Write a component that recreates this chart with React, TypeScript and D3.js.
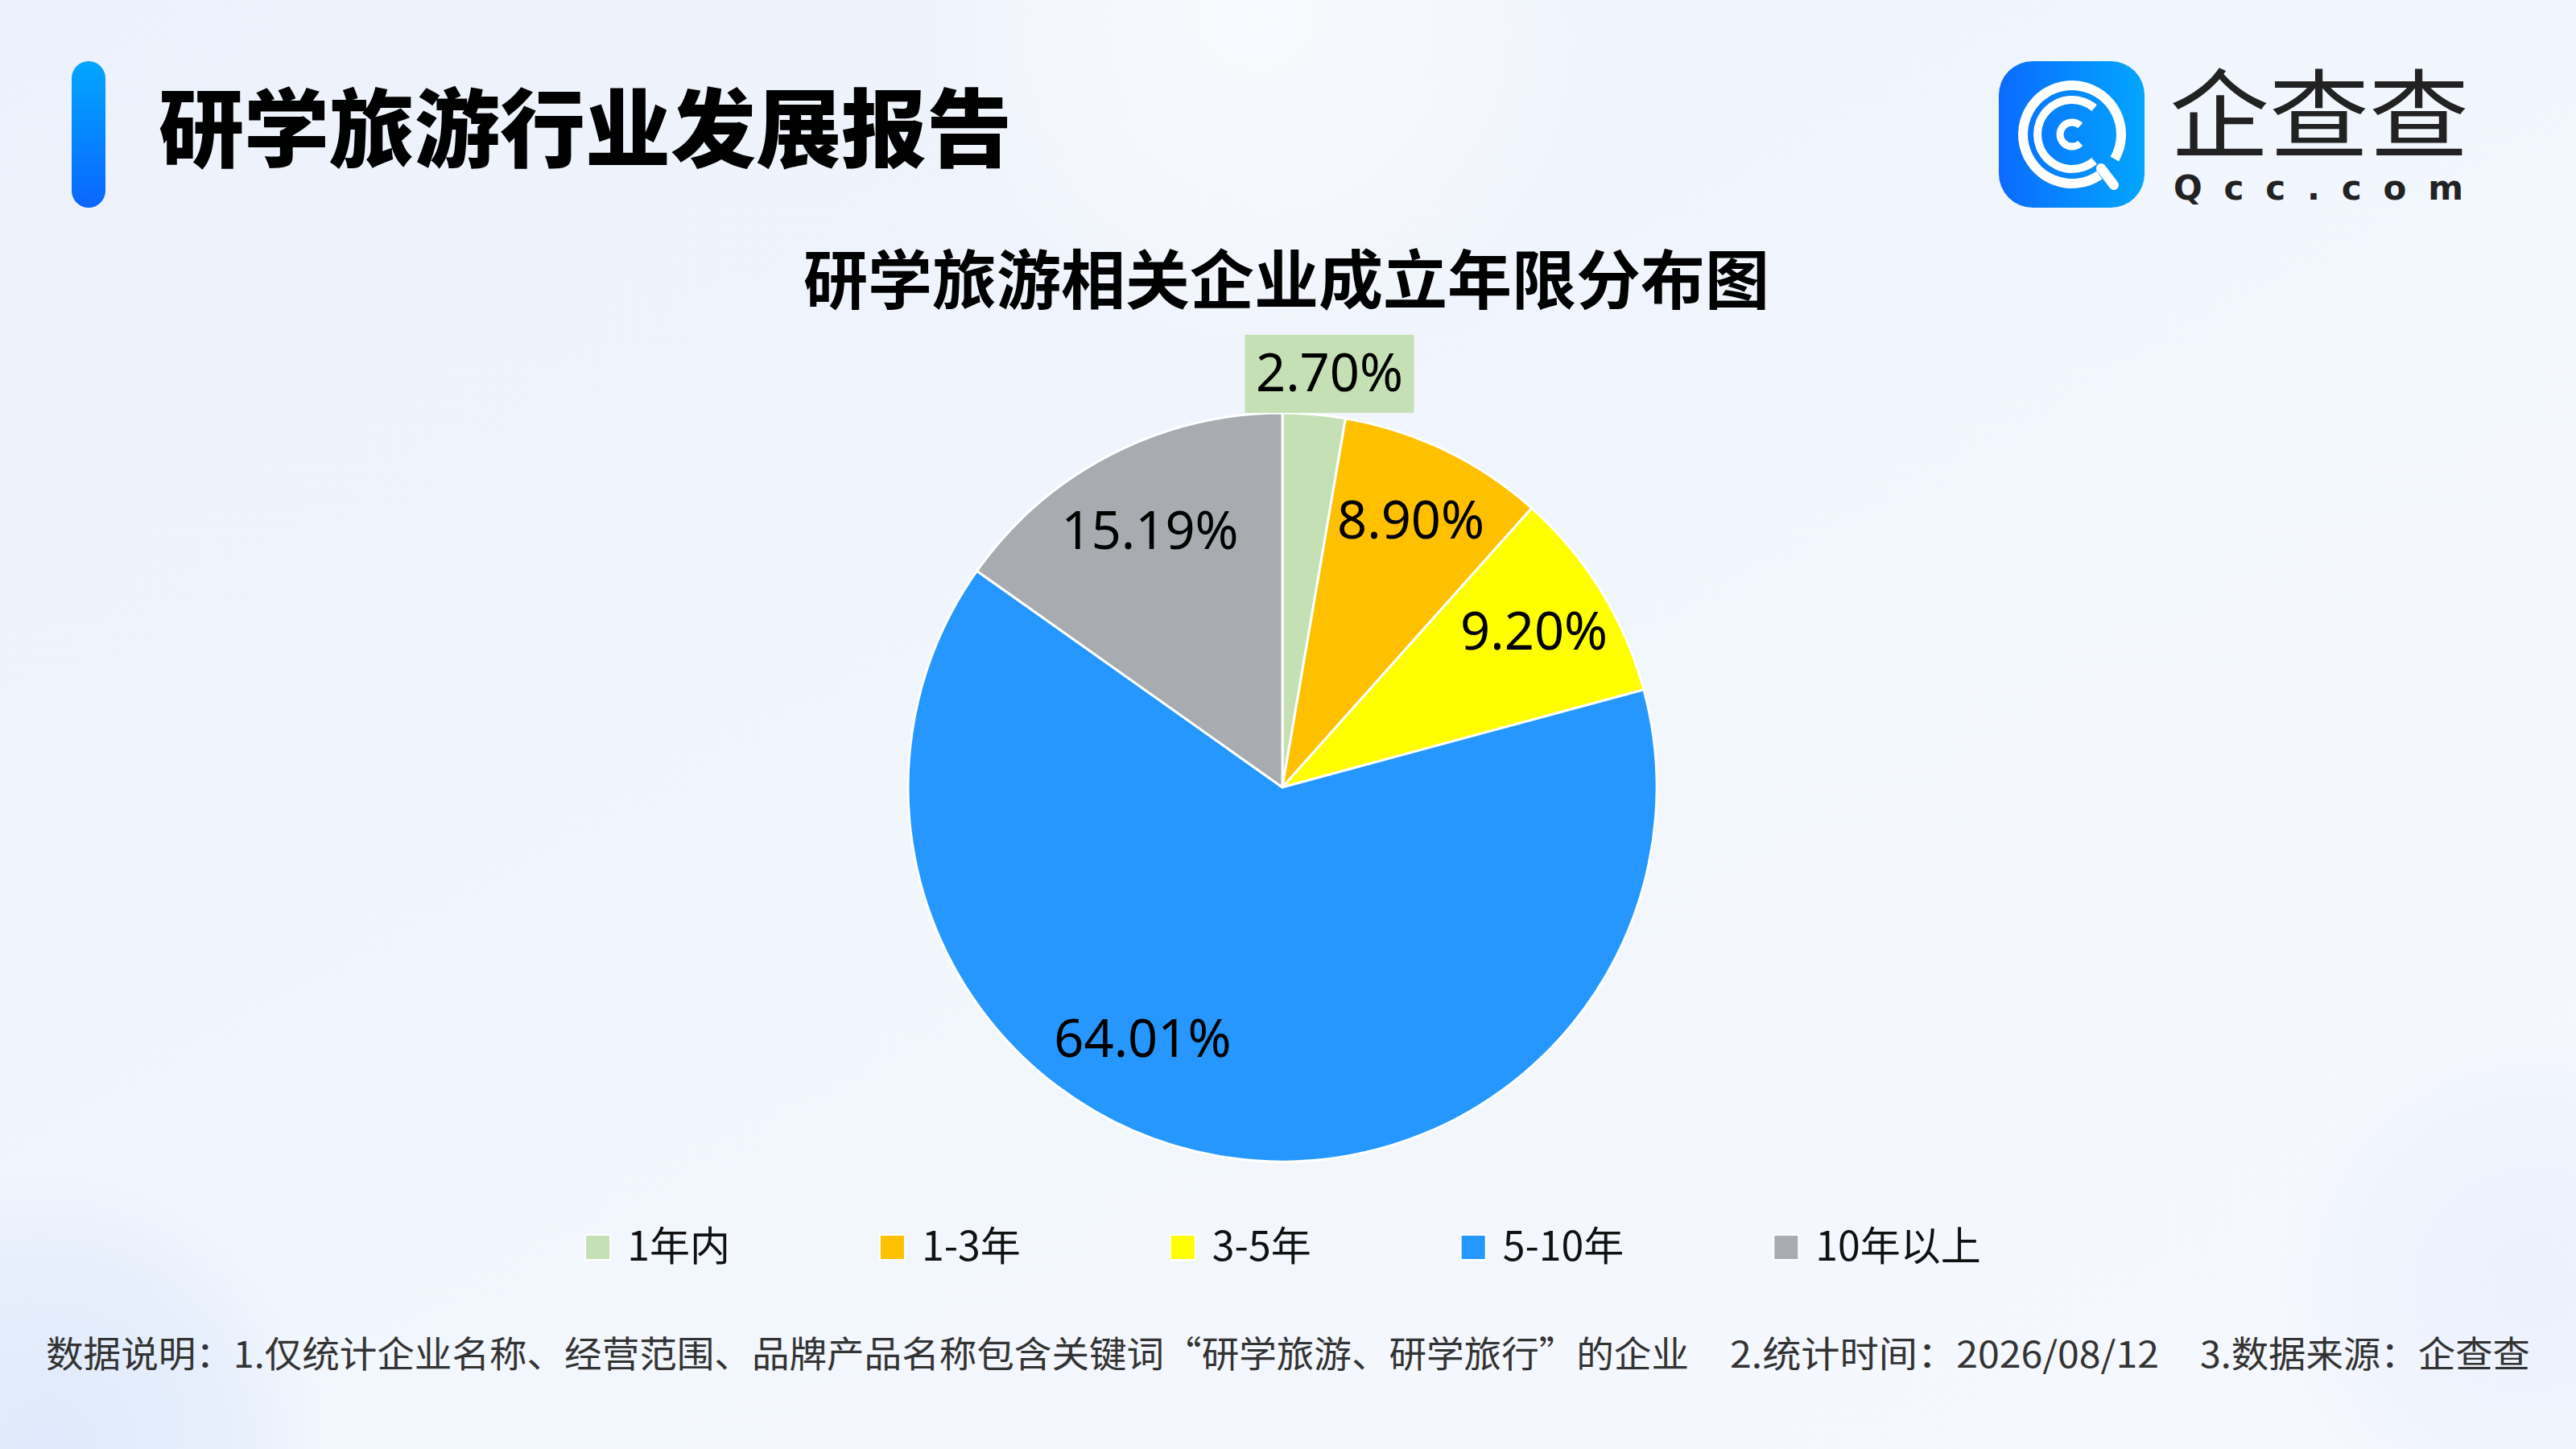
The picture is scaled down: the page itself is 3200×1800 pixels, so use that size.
import { useEffect, useRef } from "react";
import * as d3 from "d3";

// chart data
const CATEGORIES = ["1年内", "1-3年", "3-5年", "5-10年", "10年以上"];
const SHARES = [2.7, 8.9, 9.2, 64.01, 15.19];
const COLORS = ["#c5e0b4", "#ffc000", "#ffff00", "#2697fe", "#a8acb0"];
const NOTES = [
  "数据说明：1.仅统计企业名称、经营范围、品牌产品名称包含关键词“研学旅游、研学旅行”的企业",
  "2.统计时间：2026/08/12",
  "3.数据来源：企查查",
];

const W = 3200;
const H = 1800;
const CJK = '"Noto Sans CJK SC", "Noto Sans", sans-serif';
const NUM = '"Noto Sans", "Noto Sans CJK SC", sans-serif';

export default function App() {
  const svgRef = useRef<SVGSVGElement>(null);

  useEffect(() => {
    if (!svgRef.current) return;
    const svg = d3.select(svgRef.current);
    svg.selectAll("*").remove();

    const defs = svg.append("defs");

    // background
    const bg = defs.append("linearGradient").attr("id", "bg").attr("x1", "0").attr("y1", "0").attr("x2", "1").attr("y2", "1");
    bg.append("stop").attr("offset", "0%").attr("stop-color", "#ecf1fb");
    bg.append("stop").attr("offset", "55%").attr("stop-color", "#f2f6fd");
    bg.append("stop").attr("offset", "100%").attr("stop-color", "#f6f8fe");

    const blob = (id: string, color: string, op: number) => {
      const g = defs.append("radialGradient").attr("id", id);
      g.append("stop").attr("offset", "0%").attr("stop-color", color).attr("stop-opacity", op);
      g.append("stop").attr("offset", "70%").attr("stop-color", color).attr("stop-opacity", op * 0.5);
      g.append("stop").attr("offset", "100%").attr("stop-color", color).attr("stop-opacity", 0);
    };
    blob("blobTop", "#ffffff", 0.55);
    blob("blobBL", "#d6e4fb", 0.7);
    blob("blobBR", "#e4ecfb", 0.6);

    svg.append("rect").attr("width", W).attr("height", H).attr("fill", "url(#bg)");
    svg.append("circle").attr("cx", 1560).attr("cy", 20).attr("r", 420).attr("fill", "url(#blobTop)");
    svg.append("circle").attr("cx", 60).attr("cy", 1800).attr("r", 340).attr("fill", "url(#blobBL)");
    svg.append("circle").attr("cx", 3150).attr("cy", 1600).attr("r", 320).attr("fill", "url(#blobBR)");

    // header bar
    const bar = defs.append("linearGradient").attr("id", "bar").attr("x1", "0").attr("y1", "0").attr("x2", "0").attr("y2", "1");
    bar.append("stop").attr("offset", "0%").attr("stop-color", "#03a6ff");
    bar.append("stop").attr("offset", "100%").attr("stop-color", "#0a66ff");
    svg.append("rect").attr("x", 89).attr("y", 76).attr("width", 42).attr("height", 182).attr("rx", 21).attr("fill", "url(#bar)");

    svg.append("text")
      .attr("x", 197).attr("y", 199)
      .attr("font-family", CJK).attr("font-size", 106).attr("font-weight", 900)
      .attr("fill", "#000")
      .text("研学旅游行业发展报告");

    // logo
    const logo = defs.append("linearGradient").attr("id", "logo").attr("x1", "0").attr("y1", "0").attr("x2", "1").attr("y2", "0");
    logo.append("stop").attr("offset", "0%").attr("stop-color", "#0a6bff");
    logo.append("stop").attr("offset", "100%").attr("stop-color", "#02a6fe");
    svg.append("rect").attr("x", 2483).attr("y", 76).attr("width", 181).attr("height", 182).attr("rx", 42).attr("fill", "url(#logo)");

    const deg = Math.PI / 180;
    const ring = (r: number, t: number, a0: number, a1: number) =>
      d3.arc()({ innerRadius: r - t / 2, outerRadius: r + t / 2, startAngle: a0 * deg, endAngle: a1 * deg, cornerRadius: t / 2 } as any) as string;
    const lg = svg.append("g").attr("transform", "translate(2574,167)").attr("fill", "#fff");
    lg.append("path").attr("d", ring(61, 12, 146, 480));
    lg.append("path").attr("d", ring(43, 10, 140, 400));
    lg.append("path").attr("d", ring(15, 9, 137, 403));
    lg.append("line")
      .attr("x1", 36).attr("y1", 42).attr("x2", 52).attr("y2", 63)
      .attr("stroke", "#fff").attr("stroke-width", 12).attr("stroke-linecap", "round");

    svg.append("text")
      .attr("x", 2695).attr("y", 187)
      .attr("font-family", CJK).attr("font-size", 120).attr("font-weight", 400)
      .attr("fill", "#222")
      .attr("textLength", 372).attr("lengthAdjust", "spacingAndGlyphs")
      .text("企查查");
    svg.append("text")
      .attr("x", 2700).attr("y", 248)
      .attr("font-family", '"DejaVu Sans", sans-serif').attr("font-size", 42).attr("font-weight", 700)
      .attr("fill", "#222")
      .attr("textLength", 360).attr("lengthAdjust", "spacing")
      .text("Qcc.com");

    // chart title
    svg.append("text")
      .attr("x", 1598).attr("y", 377)
      .attr("text-anchor", "middle")
      .attr("font-family", CJK).attr("font-size", 80).attr("font-weight", 700)
      .attr("fill", "#000")
      .text("研学旅游相关企业成立年限分布图");

    // pie
    const cx = 1593;
    const cy = 978;
    const R = 465;
    const pie = d3.pie<number>().sort(null).value((d) => d)(SHARES);
    const arc = d3.arc<d3.PieArcDatum<number>>().innerRadius(0).outerRadius(R);
    const pg = svg.append("g").attr("transform", `translate(${cx},${cy})`);

    pg.selectAll("path.slice")
      .data(pie)
      .join("path")
      .attr("class", "slice")
      .attr("d", arc)
      .attr("fill", (_d, i) => COLORS[i])
      .attr("stroke", "#fff")
      .attr("stroke-width", 3)
      .attr("stroke-linejoin", "round");

    const maxShare = d3.max(SHARES) as number;
    pie.forEach((d, i) => {
      const label = `${SHARES[i].toFixed(2)}%`;
      let mid = (d.startAngle + d.endAngle) / 2;
      if (SHARES[i] < 5) {
        // outside end label with a filled box
        const ax = Math.sin(mid) * (R + 2);
        const ay = -Math.cos(mid) * (R + 2);
        const bw = 210;
        const bh = 97;
        const bx = ax + Math.sin(mid) * bw / 2 + 10;
        const by = ay - Math.cos(mid) * bh / 2;
        pg.append("rect")
          .attr("x", bx - bw / 2).attr("y", by - bh / 2)
          .attr("width", bw).attr("height", bh)
          .attr("fill", COLORS[i]);
        pg.append("text")
          .attr("x", bx).attr("y", by)
          .attr("dy", "0.33em")
          .attr("text-anchor", "middle")
          .attr("font-family", NUM).attr("font-size", 65)
          .attr("fill", "#000")
          .text(label);
        return;
      }
      if (SHARES[i] === maxShare) mid += 0.33;
      const lr = R * (d.endAngle - d.startAngle < 0.6 ? 0.79 : 0.77);
      pg.append("text")
        .attr("x", Math.sin(mid) * lr)
        .attr("y", -Math.cos(mid) * lr)
        .attr("dy", "0.34em")
        .attr("text-anchor", "middle")
        .attr("font-family", NUM).attr("font-size", 65)
        .attr("fill", "#000")
        .text(label);
    });

    // legend
    const leg = svg.append("g");
    const swatch = 31;
    const gapIn = 21;
    const gapOut = 186;
    const items = CATEGORIES.map((c, i) => {
      const g = leg.append("g");
      g.append("rect")
        .attr("y", 1534).attr("width", swatch).attr("height", swatch)
        .attr("fill", COLORS[i]).attr("stroke", "#fff").attr("stroke-width", 2);
      const t = g.append("text")
        .attr("x", swatch + gapIn).attr("y", 1566)
        .attr("font-family", CJK).attr("font-size", 50)
        .attr("fill", "#111")
        .text(c);
      const w = (t.node() as SVGTextElement).getComputedTextLength();
      return { g, w: swatch + gapIn + w };
    });
    const total = d3.sum(items, (d) => d.w) + gapOut * (items.length - 1);
    let x = 1594 - total / 2;
    items.forEach((it) => {
      it.g.attr("transform", `translate(${x},0)`);
      x += it.w + gapOut;
    });

    // footer notes
    const noteX = [57, 2149, 2733];
    const noteW = [2041, 533, 410];
    NOTES.forEach((n, i) => {
      svg.append("text")
        .attr("x", noteX[i]).attr("y", 1699)
        .attr("font-family", CJK).attr("font-size", 45)
        .attr("fill", "#333")
        .attr("textLength", noteW[i]).attr("lengthAdjust", "spacingAndGlyphs")
        .text(n);
    });
  }, []);

  return (
    <svg
      ref={svgRef}
      width={W}
      height={H}
      viewBox={`0 0 ${W} ${H}`}
      style={{ position: "absolute", left: 0, top: 0, display: "block" }}
    />
  );
}
